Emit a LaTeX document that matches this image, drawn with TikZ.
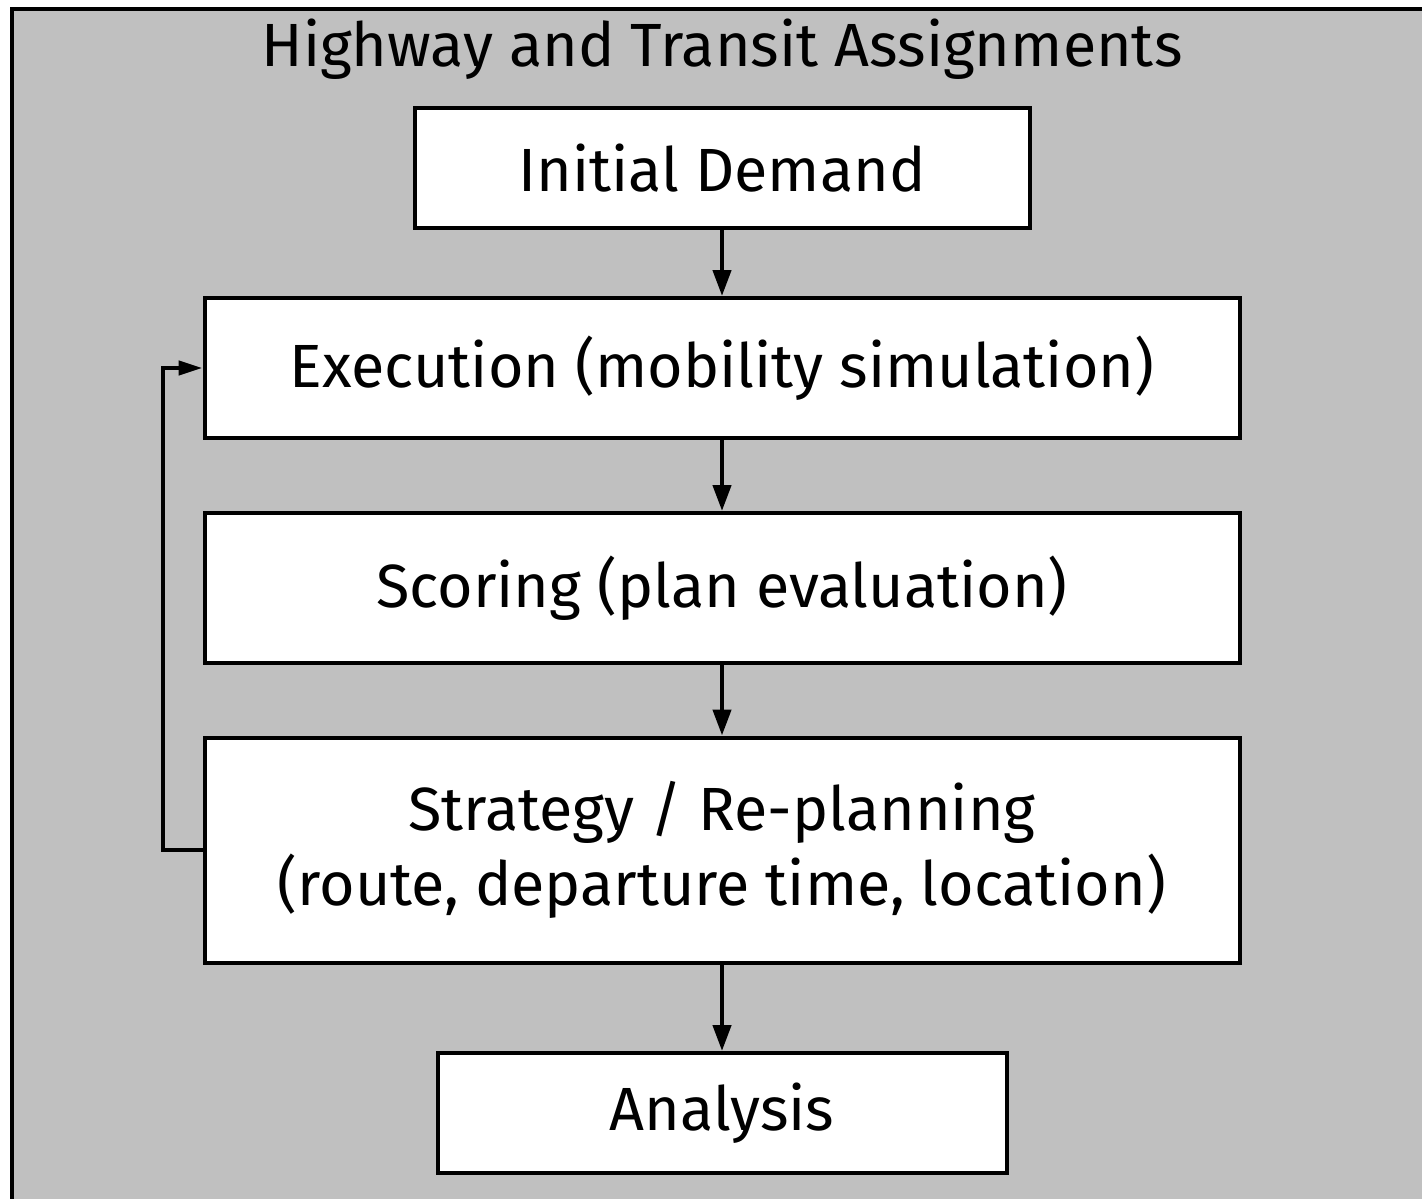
\documentclass[tikz,border=0pt]{standalone}
\usepackage{fontspec}
\setmainfont{Fira Sans}
\usetikzlibrary{arrows.meta}
\definecolor{panelgray}{RGB}{192,192,192}

\begin{document}
\begin{tikzpicture}[
    x=0.5pt, y=-0.5pt,
    font=\fontsize{30.5}{37.5}\selectfont,
    stage/.style={draw, line width=2pt, fill=white, align=center, inner sep=0pt},
    flow/.style={line width=2.2pt, -{Triangle[length=13pt, width=9pt]}}
]

    % --- Page and Panel ---
    \clip (0,0) rectangle (1422,1198);
    \fill[white] (0,0) rectangle (1422,1198);
    \draw[line width=2pt, fill=panelgray] (12,9) rectangle (1460,1240);

    % --- Title ---
    \node (title) at (722,49) {Highway and Transit Assignments};

    % --- Stages ---
    \node[stage, minimum width=307.5pt, minimum height=60pt] (demand) at (722,168) {Initial Demand};
    \node[stage, minimum width=517.5pt, minimum height=70pt] (exec) at (722,368) {Execution (mobility simulation)};
    \node[stage, minimum width=517.5pt, minimum height=75pt] (score) at (722,588) {Scoring (plan evaluation)};
    \node[stage, minimum width=517.5pt, minimum height=112.5pt] (strat) at (722,850) {Strategy / Re-planning\\(route, departure time, location)};
    \node[stage, minimum width=284.5pt, minimum height=60pt] (analysis) at (722,1113) {Analysis};

    % --- Arrows ---
    \draw[flow] (demand) -- (exec);
    \draw[flow] (exec) -- (score);
    \draw[flow] (score) -- (strat);
    \draw[flow] (strat) -- (analysis);

    % --- Feedback Loop ---
    \coordinate (loop) at (163,0);
    \draw[line width=2.2pt, -{Triangle[length=12pt, width=7pt]}]
        (strat.west) -| (loop |- exec.west) -- (exec.west);

\end{tikzpicture}
\end{document}
